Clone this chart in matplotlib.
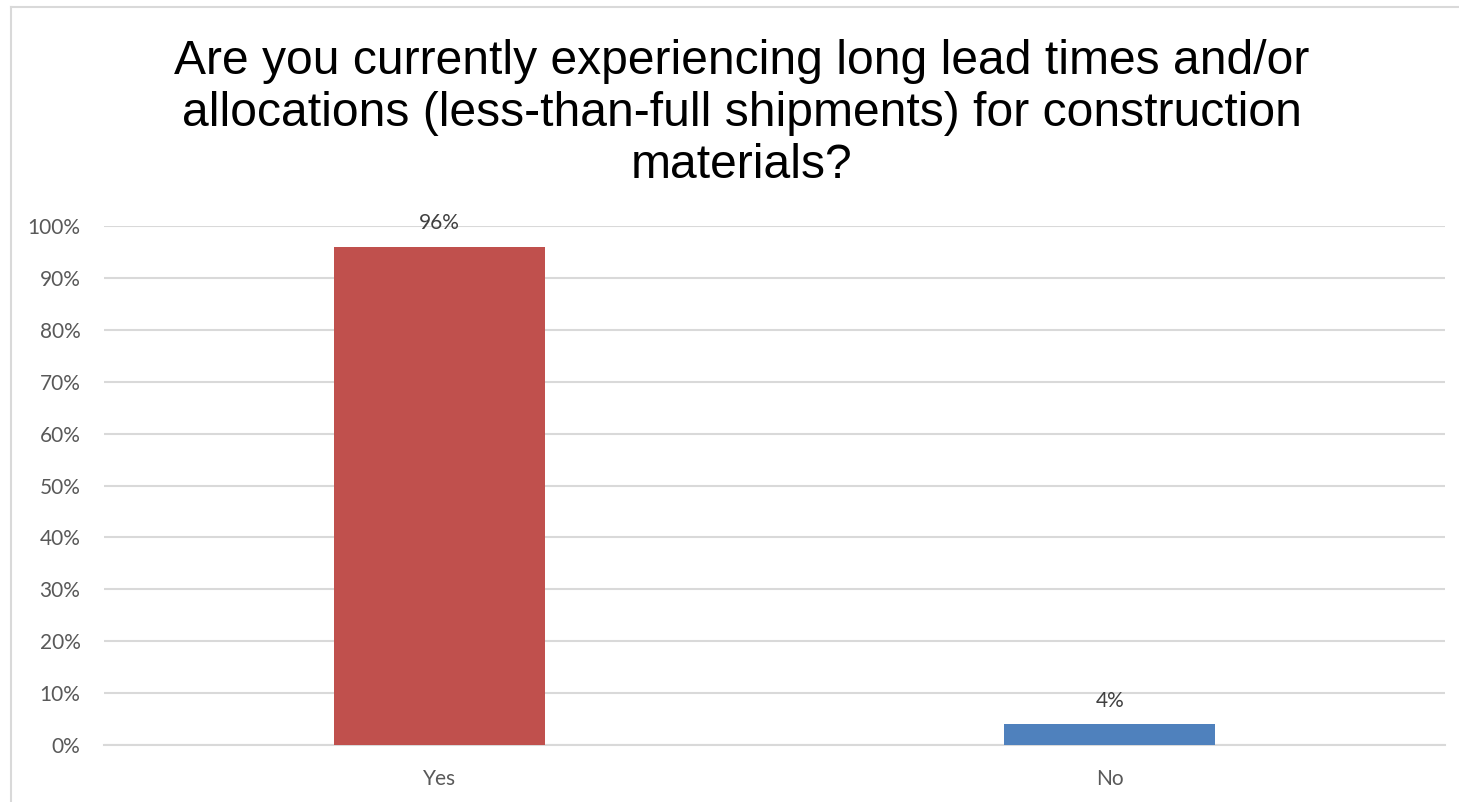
import matplotlib.pyplot as plt
from matplotlib.lines import Line2D
from matplotlib.ticker import PercentFormatter

W, H = 1459, 802
COLORS = {'yes': '#C0504D', 'no': '#4F81BD', 'grid': '#D9D9D9',
          'tick': '#595959', 'label': '#404040', 'title': '#000000'}

categories = ['Yes', 'No']
shares = [0.96, 0.04]
bar_colors = [COLORS['yes'], COLORS['no']]
y_ticks = [0.0, 0.1, 0.2, 0.3, 0.4, 0.5, 0.6, 0.7, 0.8, 0.9, 1.0]
title = ('Are you currently experiencing long lead times and/or\n'
         'allocations (less-than-full shipments) for construction\n'
         'materials?')

fig = plt.figure(figsize=(W / 100, H / 100), dpi=100, facecolor='white')

# chart frame: only left and top edges are inside the picture
fx, fy = 11 / W, 1 - 7 / H
fig.lines.append(Line2D([fx, fx], [0, fy], transform=fig.transFigure,
                        color=COLORS['grid'], linewidth=1.5))
fig.lines.append(Line2D([fx, 1], [fy, fy], transform=fig.transFigure,
                        color=COLORS['grid'], linewidth=1.5))

ax = fig.add_axes([104 / W, 1 - 745 / H, (1445 - 104) / W, (745 - 226) / H])
x = range(len(categories))
bars = ax.bar(x, shares, width=0.315, color=bar_colors, zorder=3)
ax.set_xlim(-0.5, 1.5)
ax.set_ylim(0, 1)
ax.set_yticks(y_ticks)
ax.yaxis.set_major_formatter(PercentFormatter(1.0, decimals=0))
ax.set_xticks(list(x))
ax.set_xticklabels(categories)
ax.grid(axis='y', color=COLORS['grid'], linewidth=1.5, zorder=0)
ax.set_axisbelow(True)
for side in ['top', 'right', 'left']:
    ax.spines[side].set_visible(False)
ax.spines['bottom'].set_color(COLORS['grid'])
ax.spines['bottom'].set_linewidth(1.5)
ax.tick_params(axis='both', length=0, labelcolor=COLORS['tick'], labelsize=15)
ax.tick_params(axis='y', pad=17)
ax.tick_params(axis='x', pad=17)
for lab in ax.get_xticklabels() + ax.get_yticklabels():
    lab.set_family(['Lato', 'DejaVu Sans'])

for bar, v in zip(bars, shares):
    ax.annotate(f'{v:.0%}', (bar.get_x() + bar.get_width() / 2, v),
                xytext=(0, 17), textcoords='offset points', ha='center', va='center',
                color=COLORS['label'], fontsize=15, family=['Lato', 'DejaVu Sans'])

fig.text(742 / W, 1 - 114 / H, title, ha='center', va='center', fontsize=34.6,
         color=COLORS['title'], family=['Liberation Sans', 'DejaVu Sans'],
         linespacing=1.2)

fig.savefig('out.png', dpi=100, facecolor='white')
